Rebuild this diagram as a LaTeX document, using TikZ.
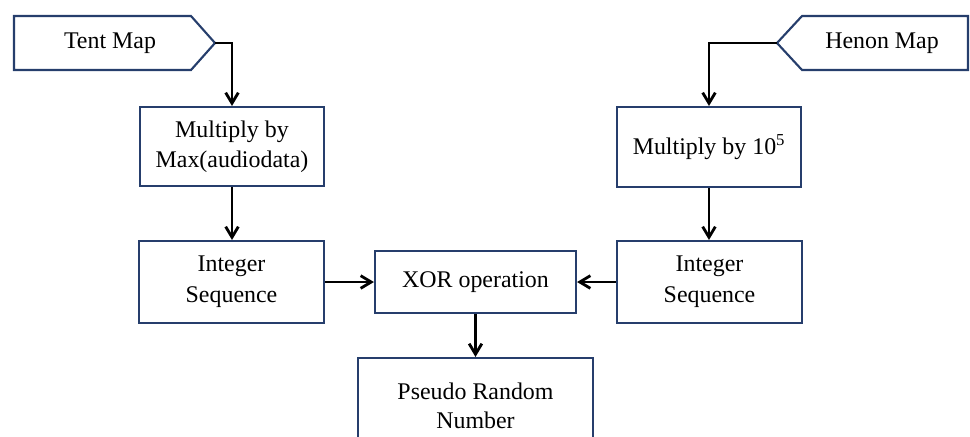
\documentclass[tikz,border=0pt]{standalone}
\usepackage{fontspec}
\setmainfont{Liberation Serif}
\usetikzlibrary{arrows.meta}
\definecolor{boxblue}{RGB}{38,62,108}
\begin{document}
\begin{tikzpicture}[x=0.025cm,y=-0.025cm,
  txt/.style={align=center,font=\fontsize{17}{21}\selectfont,inner sep=0pt},
  box/.style={txt,draw=boxblue,line width=1.5pt,fill=white},
  outline/.style={draw=boxblue,line width=1.5pt,fill=white,line join=miter},
  conn/.style={line width=2pt,-{Straight Barb[length=7.5pt,width=9pt,line width=2pt]}}]
\useasboundingbox (0,0) rectangle (970,436);
\clip (0,0) rectangle (970,436);
% input shapes
\draw[outline] (14,16) -- (191,16) -- (215,43) -- (191,70) -- (14,70) -- cycle;
\node[txt] (tent) at (110,43) {Tent Map};
\coordinate (tenttip) at (215,43);
\draw[outline] (968,16) -- (802,16) -- (777,43) -- (802,70) -- (968,70) -- cycle;
\node[txt] (henon) at (882,43) {Henon Map};
\coordinate (henontip) at (777,43);
% boxes
\node[box,minimum width=4.6cm,minimum height=1.975cm] (m1) at (232,146.5) {Multiply by\\Max(audiodata)};
\node[box,minimum width=4.6cm,minimum height=2cm] (m2) at (709,147) {Multiply by 10\textsuperscript{5}};
\node[box,minimum width=4.625cm,minimum height=2.05cm,font=\fontsize{17}{22}\selectfont] (is1) at (231.5,282) {Integer\\Sequence};
\node[box,minimum width=4.625cm,minimum height=2.05cm,font=\fontsize{17}{22}\selectfont] (is2) at (709.5,282) {Integer\\Sequence};
\node[box,minimum width=5.025cm,minimum height=1.55cm] (xor) at (475.5,282) {XOR operation};
\node[box,minimum width=5.875cm,minimum height=2.4cm] (prn) at (475.5,406) {Pseudo Random\\Number};
% connectors
\draw[conn] (tenttip) -| (m1.north);
\draw[conn] (henontip) -| (m2.north);
\draw[conn] (m1.south) -- (m1.south |- is1.north);
\draw[conn] (m2.south) -- (m2.south |- is2.north);
\draw[conn] (is1.east) -- (xor.west);
\draw[conn] (is2.west) -- (xor.east);
\draw[conn] (xor.south) -- (prn.north);
\end{tikzpicture}
\end{document}
